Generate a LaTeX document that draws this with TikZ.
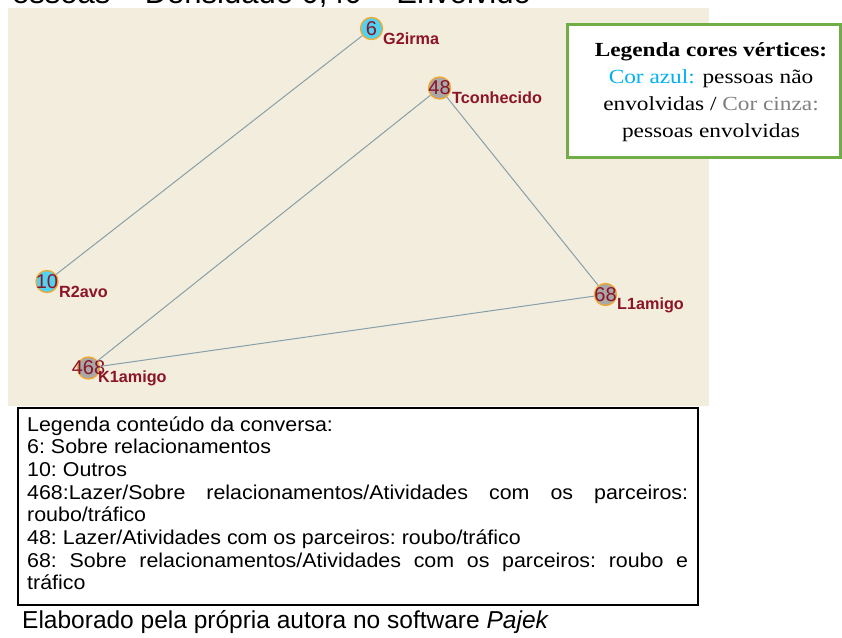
\documentclass[tikz,border=0pt]{standalone}
\usepackage{fontspec}
\newfontfamily\legsans[FakeStretch=1.07]{Liberation Sans}
\newfontfamily\plainsans{Liberation Sans}
\newfontfamily\legserif[FakeStretch=1.165]{Liberation Serif}
\definecolor{bgbeige}{RGB}{243,237,221}
\definecolor{vblue}{RGB}{80,210,240}
\definecolor{vgray}{RGB}{168,168,168}
\definecolor{vborder}{RGB}{240,168,48}
\definecolor{vtext}{RGB}{140,20,40}
\definecolor{edgec}{RGB}{135,160,170}
\definecolor{legreen}{RGB}{112,173,71}
\definecolor{azul}{RGB}{0,176,240}
\definecolor{cinza}{RGB}{128,128,128}
\begin{document}
\begin{tikzpicture}[x=1pt,y=-1pt,
  vtx/.style={circle,draw=vborder,line width=1.3pt,minimum size=22pt,inner sep=0pt},
  vb/.style={vtx,fill=vblue},
  vg/.style={vtx,fill=vgray},
  num/.style={font=\plainsans\fontsize{20}{20}\selectfont,text=vtext,inner sep=0pt},
  vname/.style={anchor=base west,inner sep=0pt,font=\plainsans\bfseries\fontsize{16.2}{17}\selectfont,text=vtext},
  edge/.style={draw=edgec,line width=1pt},
  legline/.style={anchor=base,inner sep=0pt,font=\legserif\fontsize{20}{27}\selectfont}]
\useasboundingbox (0,0) rectangle (842,637);
% title (cut off at top)
\node[anchor=base west,inner sep=0pt,font=\plainsans\fontsize{31}{32}\selectfont] (title) at (12,3.5) {essoas – Densidade 0,40 – Envolvido};
% beige background
\fill[bgbeige] (8,8) rectangle (709,406);
% vertices
\node[vb,label={[num]center:6}] (g2) at (371.5,28.5) {};
\node[vg,label={[num]center:48}] (tc) at (439.5,88) {};
\node[vb,label={[num]center:10}] (r2) at (47,281.5) {};
\node[vg,label={[num]center:468}] (k1) at (88.5,368) {};
\node[vg,label={[num]center:68}] (l1) at (605.5,294.5) {};
% names
\node[vname] (g2n) at (383,44) {G2irma};
\node[vname] (tcn) at (452,103) {Tconhecido};
\node[vname] (r2n) at (59,297) {R2avo};
\node[vname] (k1n) at (98,382.5) {K1amigo};
\node[vname] (l1n) at (617,309) {L1amigo};
% edges
\draw[edge] (g2) -- (r2);
\draw[edge] (tc) -- (k1);
\draw[edge] (tc) -- (l1);
\draw[edge] (k1) -- (l1);
% colour legend
\draw[legreen,line width=3pt,fill=white] (567,24) rectangle (840,157);
\node[legline,font=\legserif\bfseries\fontsize{20}{27}\selectfont] (lc1) at (711,56) {Legenda cores vértices:};
\node[legline] (lc2) at (711,83) {\textcolor{azul}{Cor azul:} pessoas não};
\node[legline] (lc3) at (711,110) {envolvidas / \textcolor{cinza}{Cor cinza:}};
\node[legline] (lc4) at (711,137) {pessoas envolvidas};
% content legend
\draw[black,line width=2pt] (18,408) rectangle (698,605);
\node[anchor=base west,inner sep=0pt,text width=661pt,align=justify,font=\legsans\fontsize{20}{22.7}\selectfont] (leg2) at (27,431)
{\frenchspacing\hyphenpenalty=10000 Legenda conteúdo da conversa:\\
6: Sobre relacionamentos\\
10: Outros\\
468:Lazer/Sobre relacionamentos/Atividades com os parceiros:\linebreak roubo/tráfico\\
48: Lazer/Atividades com os parceiros: roubo/tráfico\\
68: Sobre relacionamentos/Atividades com os parceiros: roubo e\linebreak tráfico};
% footer
\node[anchor=base west,inner sep=0pt,font=\plainsans\fontsize{24.5}{25}\selectfont] (foot) at (22,628) {Elaborado pela própria autora no software \textit{Pajek}};
\end{tikzpicture}
\end{document}
